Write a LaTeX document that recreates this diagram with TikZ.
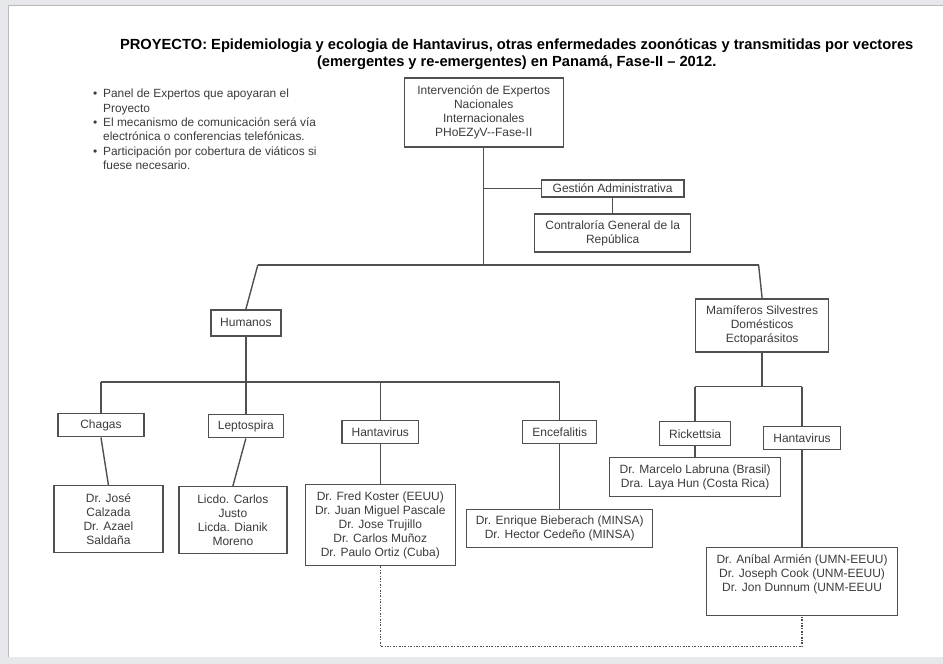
\documentclass[tikz,border=0pt]{standalone}
\usepackage{fontspec}
\setmainfont{Liberation Sans}
\usetikzlibrary{calc}
\definecolor{linegray}{RGB}{80,80,80}
\definecolor{textgray}{RGB}{60,60,60}
\definecolor{framegray}{RGB}{230,232,236}
\newcommand\boxfont{\fontsize{12}{14}\selectfont}
\newcommand\itembul{\makebox[10pt][l]{\textbullet}}

\begin{document}
\begin{tikzpicture}[x=1pt,y=-1pt,
  box/.style={draw=linegray, line width=1.4pt, fill=white, text=textgray, font=\boxfont, align=center, inner sep=0pt},
  link/.style={draw=linegray, line width=1.4pt},
  dotlink/.style={draw=linegray, line width=1.2pt, dash pattern=on 2pt off 1.5pt on 0.8pt off 1.5pt}]
% slide frame
\fill[framegray] (0,0) rectangle (943,664);
\fill[white] (9,6) rectangle (943,657);
\draw[gray!55, line width=1pt] (9,657) -- (9,6) -- (943,6);
\useasboundingbox (0,0) rectangle (943,664);

% title and notes
\node[font=\bfseries\fontsize{14.7}{17}\selectfont, align=center] (title) at (517,54)
  {PROYECTO: Epidemiologia y ecologia de Hantavirus, otras enfermedades zoon\'oticas y transmitidas por vectores\\
   (emergentes y re-emergentes) en Panam\'a, Fase-II \textendash{} 2012.};
\node[anchor=north west, align=left, inner sep=0pt, text=textgray, font=\fontsize{11.9}{14.4}\selectfont] (notes) at (93,89)
  {\itembul Panel de Expertos que apoyaran el\\
   \hspace*{10pt}Proyecto\\
   \itembul El mecanismo de comunicaci\'on ser\'a v\'ia\\
   \hspace*{10pt}electr\'onica o conferencias telef\'onicas.\\
   \itembul Participaci\'on por cobertura de vi\'aticos si\\
   \hspace*{10pt}fuese necesario.};

% upper levels
\node[box, minimum width=159, minimum height=69] (top) at (484,112.5)
  {Intervenci\'on de Expertos\\Nacionales\\Internacionales\\PHoEZyV-{}-Fase-II};
\node[box, minimum width=143, minimum height=17] (gestion) at (613,188.5) {Gesti\'on Administrativa};
\node[box, minimum width=156, minimum height=38] (contraloria) at (613,233) {Contralor\'ia General de la\\Rep\'ublica};
\node[box, minimum width=70, minimum height=26] (humanos) at (246,323) {Humanos};
\node[box, minimum width=133, minimum height=53] (mamiferos) at (762.5,325.5)
  {Mam\'iferos Silvestres\\Dom\'esticos\\Ectopar\'asitos};

% diseases
\node[box, minimum width=86, minimum height=23] (chagas) at (101,425.5) {Chagas};
\node[box, minimum width=75, minimum height=23] (lepto) at (246,426.5) {Leptospira};
\node[box, minimum width=77, minimum height=23] (hanta) at (380.5,432.5) {Hantavirus};
\node[box, minimum width=74, minimum height=23] (encef) at (560,432.5) {Encefalitis};
\node[box, minimum width=71, minimum height=24] (rick) at (695.5,434) {Rickettsia};
\node[box, minimum width=77, minimum height=23] (hanta2) at (802.5,438.5) {Hantavirus};

% experts
\node[box, minimum width=109, minimum height=67] (jose) at (108.5,519.5)
  {Dr. Jos\'e\\Calzada\\Dr. Azael\\Salda\~na};
\node[box, minimum width=108, minimum height=67] (licdo) at (233,520.5)
  {Licdo. Carlos\\Justo\\Licda. Dianik\\Moreno};
\node[box, minimum width=150, minimum height=81] (fred) at (380.5,525.5)
  {Dr. Fred Koster (EEUU)\\Dr. Juan Miguel Pascale\\Dr. Jose Trujillo\\Dr. Carlos Mu\~noz\\Dr. Paulo Ortiz (Cuba)};
\node[box, minimum width=186, minimum height=38] (enrique) at (560,529)
  {Dr. Enrique Bieberach (MINSA)\\Dr. Hector Cede\~no (MINSA)};
\node[box, minimum width=171, minimum height=39] (marcelo) at (695.5,477.5)
  {Dr. Marcelo Labruna (Brasil)\\Dra. Laya Hun (Costa Rica)};
\node[box, minimum width=191, minimum height=68] (anibal) at (802.5,582)
  {Dr. An\'ibal Armi\'en (UMN-EEUU)\\Dr. Joseph Cook (UNM-EEUU)\\Dr. Jon Dunnum (UNM-EEUU\\\strut};

% connectors
\coordinate (hub) at (484,265);
\coordinate (hubL) at (258,265);
\coordinate (hubR) at (759,265);
\coordinate (adm) at (484,188.5);
\coordinate (humbar) at (246,382);
\coordinate (mambar) at (762.5,387);
\coordinate (dotbar) at (0,647);
\draw[link] (top.south) -- (hub);
\draw[link] (hubL) -- (hubR);
\draw[link] (hubL) -- (humanos.north);
\draw[link] (hubR) -- (mamiferos.north);
\draw[link] (adm) -- (gestion.west);
\draw[link] (gestion.south) -- (contraloria.north);

\draw[link] (humanos.south) -- (humbar);
\draw[link] (chagas.north |- humbar) -- (encef.north |- humbar);
\foreach \n in {chagas,lepto,hanta,encef}
{       \draw[link] (\n.north |- humbar) -- (\n.north);
}
\draw[link] (mamiferos.south) -- (mambar);
\draw[link] (rick.north |- mambar) -- (hanta2.north |- mambar);
\foreach \n in {rick,hanta2}
{       \draw[link] (\n.north |- mambar) -- (\n.north);
}
\draw[link] (chagas.south) -- (jose.north);
\draw[link] (lepto.south) -- (licdo.north);
\draw[link] (hanta.south) -- (fred.north);
\draw[link] (encef.south) -- (enrique.north);
\draw[link] (rick.south) -- (marcelo.north);
\draw[link] (hanta2.south) -- (anibal.north);
\draw[dotlink] (fred.south) -- (fred.south |- dotbar) -- (anibal.south |- dotbar) -- (anibal.south);
\end{tikzpicture}
\end{document}
